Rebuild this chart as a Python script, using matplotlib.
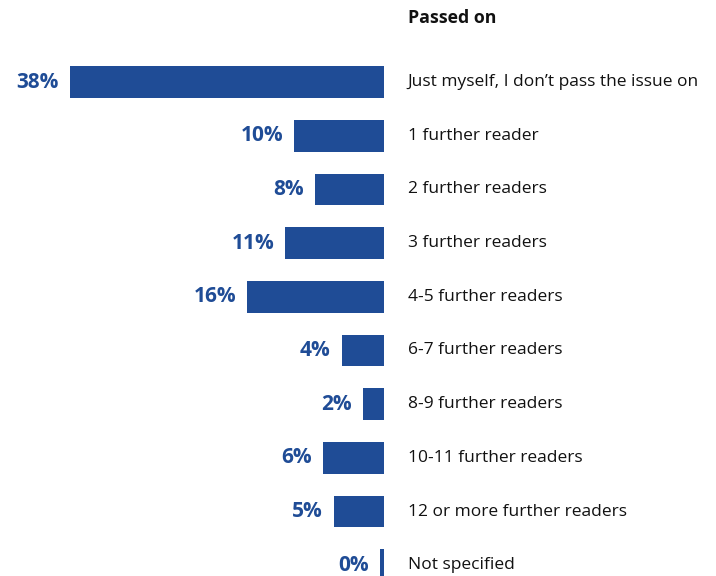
import matplotlib.pyplot as plt

categories = [
    "Just myself, I don\u2019t pass the issue on",
    "1 further reader",
    "2 further readers",
    "3 further readers",
    "4-5 further readers",
    "6-7 further readers",
    "8-9 further readers",
    "10-11 further readers",
    "12 or more further readers",
    "Not specified",
]
# printed percentages
values = [38, 10, 8, 11, 16, 4, 2, 6, 5, 0]
# bar lengths as drawn in the picture (in % units)
bar_lengths = [37.9, 10.8, 8.3, 11.9, 16.5, 5.1, 2.5, 7.3, 6.0, 0.5]
header = "Passed on"

blue = "#1f4c96"
plt.rcParams['font.family'] = ['Open Sans', 'DejaVu Sans']

fig = plt.figure(figsize=(7.16, 5.76), dpi=100)
ax = fig.add_axes([0, 0, 1, 1])

px = 8.29  # pixels per percent
ax.set_xlim(-384 / px, (716 - 384) / px)
row = 53.7
ax.set_ylim((576 - 82) / row, -82 / row)

y = list(range(len(categories)))
ax.barh(y, [-b for b in bar_lengths], height=0.59, color=blue)

for i, (v, b, c) in enumerate(zip(values, bar_lengths, categories)):
    ax.annotate(f"{v}%", (-b, i), xytext=(-8, 0), textcoords='offset points',
                ha='right', va='center', fontsize=15, fontweight='bold', color=blue)
    ax.annotate(c, (0, i), xytext=(17, 0), textcoords='offset points',
                ha='left', va='center', fontsize=12.5, color='#111111')

ax.annotate(header, (0, -82 / row), xytext=(17, -18 * 0.72), textcoords='offset points',
            ha='left', va='center', fontsize=12.8, fontweight='bold', color='#111111')

ax.axis('off')
fig.savefig("out.png", dpi=100)
